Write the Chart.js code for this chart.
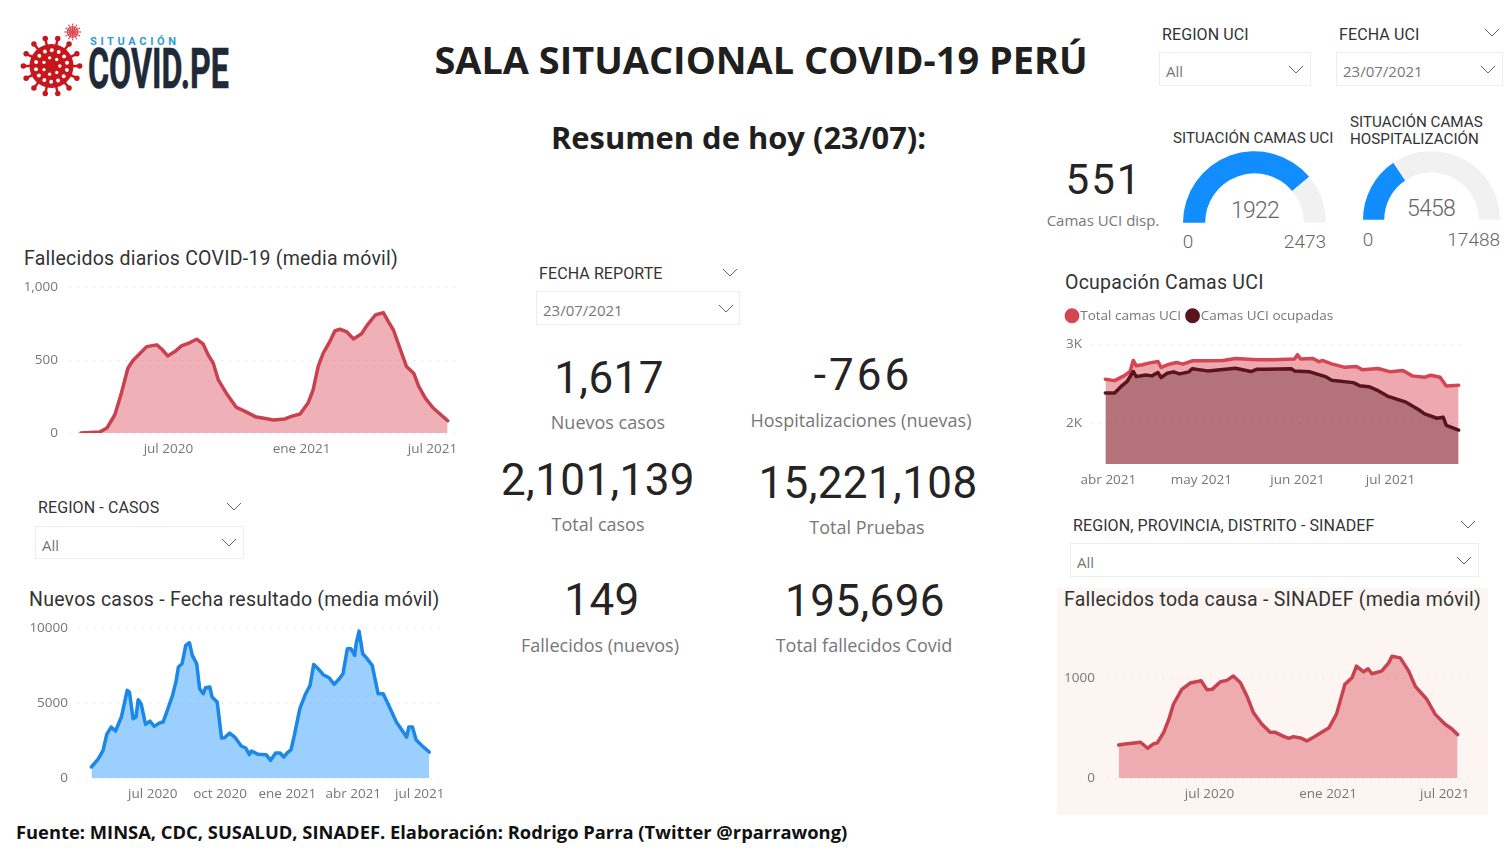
<!DOCTYPE html>
<html lang="es">
<head>
<meta charset="utf-8">
<title>Sala Situacional COVID-19 Perú</title>
<script src="https://cdn.jsdelivr.net/npm/chart.js@4"></script>
<style>
  html, body { margin: 0; background: #fff; overflow: hidden; }
  #page { position: relative; width: 1512px; height: 852px; font-family: "Open Sans", sans-serif; color: #252423; }
  #page canvas { position: absolute; }
  .t { position: absolute; white-space: nowrap; transform: translateY(-50%); line-height: 1.1; }
  .c { transform: translate(-50%, -50%); text-align: center; }
  .r { transform: translate(-100%, -50%); }
  .head { font-weight: 700; color: #201f1e; }
  .din { font-family: Roboto, sans-serif; }
  .title { font-family: Roboto, sans-serif; font-size: 19.5px; letter-spacing: 0.24px; color: #333; }
  .slicer { font-family: Roboto, sans-serif; font-size: 16px; letter-spacing: 0.1px; color: #333; }
  .value { font-family: "Open Sans", sans-serif; font-size: 15px; color: #777; }
  .kpi { font-family: Roboto, sans-serif; font-size: 44px; letter-spacing: 0.4px; color: #252423; }
  .kpi-label { font-size: 18px; color: #777; }
  .gauge-label { font-family: Roboto, sans-serif; font-size: 23px; font-weight: 300; letter-spacing: -0.8px; color: #666; }
  .gauge-end { font-family: Roboto, sans-serif; font-size: 19px; font-weight: 300; color: #666; }
  .box { position: absolute; border: 1px solid #ededed; box-sizing: border-box; }
  #sinadefBg { position: absolute; left: 1057px; top: 588px; width: 431px; height: 227px; background: #fdf5f2; }
</style>
</head>
<body>
<div id="page">
  <svg id="logo" style="position:absolute;left:0;top:0" width="240" height="110">
    <text x="90" y="45" font-family="Roboto" font-weight="700" font-size="11" fill="#2e9bd6" textLength="86">SITUACIÓN</text>
    <text x="88" y="88" font-family="Roboto" font-weight="700" font-size="56" fill="#1f2a38" stroke="#1f2a38" stroke-width="0.6" textLength="141" lengthAdjust="spacingAndGlyphs">COVID.PE</text>
  </svg>

  <div class="t c head" style="left:761px;top:60px;font-size:37.9px">SALA SITUACIONAL COVID-19 PERÚ</div>
  <div class="t c head" style="left:738.5px;top:137px;font-size:30.9px">Resumen de hoy (23/07):</div>

  <div class="t slicer" style="left:1162px;top:35px">REGION UCI</div>
  <div class="box" style="left:1159px;top:52px;width:152px;height:34px"></div>
  <div class="t value" style="left:1166px;top:71px">All</div>
  <div class="t slicer" style="left:1339px;top:35px">FECHA UCI</div>
  <div class="box" style="left:1336px;top:52px;width:167px;height:34px"></div>
  <div class="t value" style="left:1343px;top:71px">23/07/2021</div>

  <div class="t c din" style="left:1104px;top:180px;font-size:42px;letter-spacing:2px">551</div>
  <div class="t c value" style="left:1103px;top:220px">Camas UCI disp.</div>

  <div class="t din" style="left:1173px;top:138px;font-size:15.2px;color:#333">SITUACIÓN CAMAS UCI</div>
  <div class="t din" style="left:1350px;top:122px;font-size:15.2px;color:#333">SITUACIÓN CAMAS</div>
  <div class="t din" style="left:1350px;top:139px;font-size:15.2px;color:#333">HOSPITALIZACIÓN</div>
  <div class="t c gauge-label" style="left:1255px;top:211px">1922</div>
  <div class="t c gauge-label" style="left:1431px;top:209px">5458</div>
  <div class="t c gauge-end" style="left:1188px;top:242px">0</div>
  <div class="t r gauge-end" style="left:1326px;top:242px">2473</div>
  <div class="t c gauge-end" style="left:1368px;top:240px">0</div>
  <div class="t r gauge-end" style="left:1500px;top:240px">17488</div>

  <div class="t title" style="left:24px;top:259px">Fallecidos diarios COVID-19 (media móvil)</div>
  <div class="t title" style="left:29px;top:600px">Nuevos casos - Fecha resultado (media móvil)</div>
  <div class="t title" style="left:1065px;top:283px">Ocupación Camas UCI</div>
  <div id="sinadefBg"></div>
  <div class="t title" style="left:1064px;top:600px">Fallecidos toda causa - SINADEF (media móvil)</div>

  <div class="t slicer" style="left:539px;top:274px">FECHA REPORTE</div>
  <div class="box" style="left:536px;top:291px;width:204px;height:34px"></div>
  <div class="t value" style="left:543px;top:310px">23/07/2021</div>
  <div class="t slicer" style="left:38px;top:508px">REGION - CASOS</div>
  <div class="box" style="left:35px;top:526px;width:209px;height:33px"></div>
  <div class="t value" style="left:42px;top:545px">All</div>
  <div class="t slicer" style="left:1073px;top:526px">REGION, PROVINCIA, DISTRITO - SINADEF</div>
  <div class="box" style="left:1070px;top:543px;width:409px;height:34px"></div>
  <div class="t value" style="left:1077px;top:562px">All</div>

  <div class="t c kpi" style="left:609px;top:378px">1,617</div>
  <div class="t c kpi-label" style="left:608px;top:423px">Nuevos casos</div>
  <div class="t c kpi" style="left:863px;top:375px;letter-spacing:3px">-766</div>
  <div class="t c kpi-label" style="left:861px;top:421px">Hospitalizaciones (nuevas)</div>
  <div class="t c kpi" style="left:598px;top:480px">2,101,139</div>
  <div class="t c kpi-label" style="left:598px;top:525px">Total casos</div>
  <div class="t c kpi" style="left:868px;top:483px">15,221,108</div>
  <div class="t c kpi-label" style="left:867px;top:528px">Total Pruebas</div>
  <div class="t c kpi" style="left:602px;top:600px">149</div>
  <div class="t c kpi-label" style="left:600px;top:646px">Fallecidos (nuevos)</div>
  <div class="t c kpi" style="left:865px;top:601px">195,696</div>
  <div class="t c kpi-label" style="left:864px;top:646px">Total fallecidos Covid</div>

  <div class="t head" style="left:16px;top:832px;font-size:18.35px;color:#111">Fuente: MINSA, CDC, SUSALUD, SINADEF. Elaboración: Rodrigo Parra (Twitter @rparrawong)</div>

  <canvas id="deathsChart" width="450" height="196" style="left:20px;top:267px"></canvas>
  <canvas id="casesChart" width="432" height="198" style="left:20px;top:610px"></canvas>
  <canvas id="icuChart" width="426" height="199" style="left:1052px;top:295px"></canvas>
  <canvas id="sinadefChart" width="420" height="190" style="left:1058px;top:618px"></canvas>
  <canvas id="gaugeIcu" width="143" height="72" style="left:1183px;top:151px"></canvas>
  <canvas id="gaugeHosp" width="137" height="69" style="left:1363px;top:151px"></canvas>
</div>

<script>
// Fallecidos diarios: dias desde el 3 mar 2020
const deathDays = [0,26,36,47,56,65,72,82,91,105,112,120,130,139,151,160,169,176,183,190,201,215,227,241,257,266,282,291,303,314,321,328,335,344,351,358,367,377,388,395,407,418,425,432,441,450,460,467,476,487,507];
const deathValues = [0,7,34,125,273,444,497,547,592,604,574,528,558,597,620,643,610,535,478,364,273,175,148,112,98,89,96,114,130,205,296,456,547,626,699,711,695,645,680,734,809,825,763,706,581,456,410,319,239,171,84];
const deathTickDays = [121,305,486];
const deathTickLabels = ['jul 2020','ene 2021','jul 2021'];
const deathYTicks = [0,500,1000];
const deathYLabels = ['0','500','1,000'];

// Nuevos casos: dias desde el 8 abr 2020
const caseDays = [0,9,16,21,27,33,41,49,52,57,61,64,68,74,80,86,93,98,103,111,116,119,124,129,134,138,144,148,153,156,162,165,172,178,182,189,196,205,211,216,219,228,239,245,252,258,263,269,273,278,285,293,299,304,310,317,325,332,339,344,350,355,360,362,366,371,376,384,392,399,406,417,431,434,439,444,453,462];
const caseValues = [733,1244,1844,2911,3400,3133,4067,5844,5733,3956,4067,5222,4956,3578,3800,3444,3667,3733,4400,5511,6511,7400,7622,8844,9022,8178,7622,5956,5622,6022,6067,5400,5067,2667,2689,3000,2733,2133,2000,1556,1800,1578,1556,1178,1667,1667,1400,1733,1889,2956,4622,5622,6178,7578,7289,6889,6689,6244,6622,6955,8622,8622,8178,8955,9800,8289,8022,7511,5622,5622,4911,3733,2733,3400,3400,2556,2111,1733];
const caseTickDays = [84,176,268,358,449];
const caseTickLabels = ['jul 2020','oct 2020','ene 2021','abr 2021','jul 2021'];
const caseYTicks = [0,5000,10000];
const caseYLabels = ['0','5000','10000'];

// Camas UCI: dias desde el 31 mar 2021
const icuTotalDays = [0,3,6,8,9,10,12,14,17,18,20,23,25,28,33,38,42,49,54,61,62,63,67,69,70,73,77,81,83,88,92,96,99,103,105,108,110,114];
const icuTotalValues = [2559,2542,2602,2657,2797,2729,2742,2763,2784,2708,2742,2771,2750,2792,2792,2797,2822,2805,2805,2814,2869,2814,2822,2780,2797,2754,2712,2720,2678,2695,2653,2669,2602,2585,2610,2585,2475,2483];
const icuBusyDays = [0,3,5,7,9,10,13,15,17,18,20,22,24,27,28,33,38,42,47,49,52,60,61,66,71,73,80,82,85,88,91,97,101,103,107,109,110,114];
const icuBusyValues = [2386,2386,2466,2530,2657,2593,2614,2602,2644,2581,2636,2653,2627,2653,2691,2665,2682,2699,2657,2686,2686,2691,2665,2653,2593,2547,2517,2479,2466,2415,2347,2271,2178,2123,2068,2081,1979,1919];
const icuSeriesNames = ['Total camas UCI','Camas UCI ocupadas'];
const icuTickDays = [1,31,62,92];
const icuTickLabels = ['abr 2021','may 2021','jun 2021','jul 2021'];
const icuYTicks = [2000,3000];
const icuYLabels = ['2K','3K'];

// SINADEF: dias desde el 11 feb 2020
const sinadefDays = [0,10,21,34,45,54,60,70,78,85,98,111,128,137,145,158,168,178,189,199,209,222,235,243,256,264,271,282,292,305,315,326,338,351,362,369,380,387,393,408,419,424,437,450,460,478,491,506,517,526];
const sinadefValues = [331,341,348,358,298,341,351,457,589,738,887,950,973,884,887,963,977,1020,954,821,656,540,457,457,417,397,414,401,371,417,457,500,639,937,1003,1119,1063,1093,1043,1069,1152,1218,1202,1069,920,788,639,540,490,434];
const sinadefTickDays = [141,325,506];
const sinadefTickLabels = ['jul 2020','ene 2021','jul 2021'];
const sinadefYTicks = [0,1000];
const sinadefYLabels = ['0','1000'];

// Gauges
const gaugeIcuValues = [1922,551];
const gaugeHospValues = [5458,12030];

Chart.defaults.animation = false;
Chart.defaults.responsive = false;
Chart.defaults.maintainAspectRatio = false;
Chart.defaults.font.family = '"Open Sans", sans-serif';
Chart.defaults.font.size = 13.5;
Chart.defaults.color = '#777';

function toPoints(days, values) {
  return days.map((d, i) => ({ x: d, y: values[i] }));
}

function xAxis(min, max, tickDays, tickLabels) {
  return {
    type: 'linear', min, max,
    grid: { display: false },
    border: { display: false },
    afterBuildTicks: axis => { axis.ticks = tickDays.map(v => ({ value: v })); },
    afterFit: axis => { axis.height = 30; },
    ticks: {
      padding: 0, maxRotation: 0, autoSkip: false,
      callback: v => tickLabels[tickDays.indexOf(v)]
    }
  };
}

function yAxis(min, max, tickVals, tickLabels, width, padding) {
  return {
    min, max,
    grid: { color: '#d6d6d6', drawTicks: false },
    border: { display: false, dash: [1, 7] },
    afterBuildTicks: axis => { axis.ticks = tickVals.map(v => ({ value: v })); },
    afterFit: axis => { axis.width = width; },
    ticks: { padding, callback: v => tickLabels[tickVals.indexOf(v)] }
  };
}

function series(label, points, line, area, width) {
  return {
    label, data: points, parsing: false,
    borderColor: line, backgroundColor: line, borderWidth: width,
    fill: { target: 'start', above: area },
    pointRadius: 0, tension: 0, borderJoinStyle: 'round', borderCapStyle: 'round'
  };
}

new Chart(document.getElementById('deathsChart'), {
  type: 'line',
  data: { datasets: [series('Fallecidos', toPoints(deathDays, deathValues), '#c9414f', 'rgba(222,80,95,0.45)', 3.5)] },
  options: {
    layout: { padding: { top: 10, right: 10 } },
    plugins: { legend: { display: false }, tooltip: { enabled: false } },
    scales: {
      x: xAxis(-15, 524, deathTickDays, deathTickLabels),
      y: yAxis(0, 1000, deathYTicks, deathYLabels, 50, 12)
    }
  }
});

new Chart(document.getElementById('casesChart'), {
  type: 'line',
  data: { datasets: [series('Casos', toPoints(caseDays, caseValues), '#1b87e6', 'rgba(17,141,255,0.42)', 3.5)] },
  options: {
    layout: { padding: { top: 10, right: 10 } },
    plugins: { legend: { display: false }, tooltip: { enabled: false } },
    scales: {
      x: xAxis(-18.3, 479.4, caseTickDays, caseTickLabels),
      y: yAxis(0, 10000, caseYTicks, caseYLabels, 58, 10)
    }
  }
});

const icuTotal = series(icuSeriesNames[0], toPoints(icuTotalDays, icuTotalValues), '#d64553', 'rgba(217,64,80,0.45)', 3.5);
const icuBusy = series(icuSeriesNames[1], toPoints(icuBusyDays, icuBusyValues), '#5a141e', 'rgba(75,17,22,0.35)', 3.5);
icuTotal.order = 2;
icuBusy.order = 1;

new Chart(document.getElementById('icuChart'), {
  type: 'line',
  data: { datasets: [icuTotal, icuBusy] },
  options: {
    layout: { padding: { top: 4, left: 8.5, right: 10 } },
    plugins: {
      tooltip: { enabled: false },
      legend: {
        position: 'top', align: 'start',
        labels: {
          usePointStyle: true, pointStyle: 'circle', boxWidth: 3, boxHeight: 8, padding: 10, color: '#777', font: { size: 13.5 },
          sort: (a, b) => a.datasetIndex - b.datasetIndex
        }
      }
    },
    scales: {
      x: xAxis(-4.3, 117, icuTickDays, icuTickLabels),
      y: yAxis(1491, 3149, icuYTicks, icuYLabels, 31.5, 10)
    }
  }
});

new Chart(document.getElementById('sinadefChart'), {
  type: 'line',
  data: { datasets: [series('Fallecidos', toPoints(sinadefDays, sinadefValues), '#c8424f', 'rgba(217,70,85,0.42)', 3.5)] },
  options: {
    layout: { padding: { top: 10, right: 10 } },
    plugins: { legend: { display: false }, tooltip: { enabled: false } },
    scales: {
      x: xAxis(-18, 542, sinadefTickDays, sinadefTickLabels),
      y: yAxis(0, 1400, sinadefYTicks, sinadefYLabels, 49, 12)
    }
  }
});

function gauge(id, values) {
  new Chart(document.getElementById(id), {
    type: 'doughnut',
    data: { datasets: [{ data: values, backgroundColor: ['#118dff', '#f1f1f1'], borderWidth: 0 }] },
    options: {
      rotation: -90, circumference: 180, cutout: '69%',
      plugins: { legend: { display: false }, tooltip: { enabled: false } }
    }
  });
}
gauge('gaugeIcu', gaugeIcuValues);
gauge('gaugeHosp', gaugeHospValues);

// chevrons de los filtros
const chevrons = [[730,273],[726,309],[234,507],[229,543],[1468,525],[1464,561],[1296,70],[1492,33],[1488,70]];
const page = document.getElementById('page');
chevrons.forEach(([x, y]) => {
  page.insertAdjacentHTML('beforeend',
    `<svg style="position:absolute;left:${x - 8}px;top:${y - 5}px" width="16" height="10"><polyline points="1,1 8,8 15,1" fill="none" stroke="#666" stroke-width="1"/></svg>`);
});

// logo: virus
function virus(cx, cy, r, spikes, color) {
  let s = `<circle cx="${cx}" cy="${cy}" r="${r}" fill="${color}"/>`;
  for (let i = 0; i < spikes; i++) {
    const a = i / spikes * Math.PI * 2;
    const x2 = cx + Math.cos(a) * r * 1.28, y2 = cy + Math.sin(a) * r * 1.28;
    s += `<line x1="${cx}" y1="${cy}" x2="${x2}" y2="${y2}" stroke="${color}" stroke-width="${r / 9}"/>`;
    s += `<circle cx="${x2}" cy="${y2}" r="${r / 8}" fill="${color}"/>`;
    const sx = cx + Math.cos(a + 0.25) * r * 0.72, sy = cy + Math.sin(a + 0.25) * r * 0.72;
    s += `<circle cx="${sx}" cy="${sy}" r="${r / 11}" fill="#fff"/>`;
    if (i % 2 === 0) {
      const ix = cx + Math.cos(a) * r * 0.38, iy = cy + Math.sin(a) * r * 0.38;
      s += `<circle cx="${ix}" cy="${iy}" r="${r / 13}" fill="#fff"/>`;
    }
  }
  return s;
}
document.getElementById('logo').insertAdjacentHTML('beforeend',
  virus(51.5, 66, 22, 14, '#c8161d') + virus(72.7, 32, 6, 12, '#d9444b'));
</script>
</body>
</html>
